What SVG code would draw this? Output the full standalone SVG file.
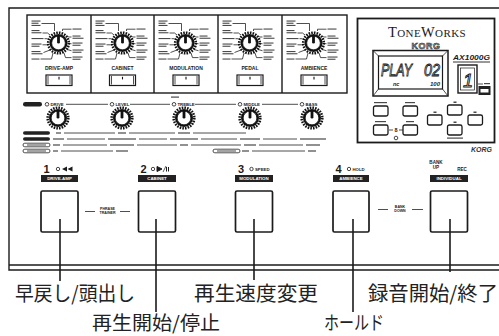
<svg xmlns="http://www.w3.org/2000/svg" width="499" height="336" viewBox="0 0 499 336">
<style>
  .ln{fill:none;stroke:#1b1b1b;stroke-width:1.4}
  .th{fill:none;stroke:#222;stroke-width:0.8}
  .bar{fill:#4a4a4a}
  .hd{font-family:"Liberation Sans",Arial,sans-serif;font-weight:bold;fill:#1b1b1b;text-anchor:middle}
  .sm{font-family:"Liberation Sans",Arial,sans-serif;font-weight:bold;fill:#1b1b1b;font-size:4.3px}
  .num{font-family:"Liberation Sans",Arial,sans-serif;font-weight:bold;fill:#1b1b1b;font-size:11px;text-anchor:middle}
  .jp{font-family:"Noto Sans CJK JP","Noto Sans",sans-serif;font-size:20px;fill:#222}
  .jp2{font-family:"Noto Sans CJK JP","Noto Sans",sans-serif;font-size:19px;fill:#222}
  .sw{fill:#fff;stroke:#1b1b1b;stroke-width:1.7}
  .tag{fill:#222}
  .tagt{font-family:"Liberation Sans",Arial,sans-serif;font-weight:bold;font-size:4.4px;fill:#fff;text-anchor:middle}
  .wire{fill:none;stroke:#1b1b1b;stroke-width:1.6}
  .lcd{font-family:"Liberation Sans",Arial,sans-serif;font-style:italic;fill:#fff;stroke:#111;stroke-width:0.9}
</style>
<defs>
  <!-- rotary knob with ridged rim and pointer -->
  <g id="knob">
    <circle r="10.3" fill="none" stroke="#111" stroke-width="2.6" stroke-dasharray="1.6 1.1"/>
    <circle r="9" fill="#111"/>
    <circle r="6.8" fill="#fff" stroke="#111" stroke-width="0.7"/>
    <rect x="-1.4" y="-7.6" width="2.8" height="8.2" rx="1.4" fill="#111"/>
  </g>
  <!-- selector dial with its printed position legends -->
  <g id="dial">
    <g class="bar">
      <rect x="-27" y="-22.5" width="9" height="1.1"/>
      <rect x="-27" y="-20.3" width="7" height="1.1"/>
      <rect x="-27" y="-18.1" width="9" height="1.1"/>
      <rect x="-27" y="-13" width="8" height="1.1"/>
      <rect x="-27" y="-10.8" width="10" height="1.1"/>
      <rect x="-27" y="-5" width="12" height="1.1"/>
      <rect x="-27" y="0.5" width="10" height="1.1"/>
      <rect x="-27" y="2.7" width="8" height="1.1"/>
      <rect x="-27" y="8" width="9" height="1.1"/>
      <rect x="-27" y="10.2" width="11" height="1.1"/>
      <rect x="-27" y="15.5" width="8" height="1.1"/>
      <rect x="14" y="-14.5" width="9" height="1.1"/>
      <rect x="14" y="-7.5" width="8" height="1.1"/>
      <rect x="14" y="-5.3" width="11" height="1.1"/>
      <rect x="14" y="-0.5" width="10" height="1.1"/>
      <rect x="14" y="1.7" width="8" height="1.1"/>
      <rect x="14" y="6.5" width="11" height="1.1"/>
      <rect x="14" y="8.7" width="9" height="1.1"/>
      <rect x="14" y="13.5" width="10" height="1.1"/>
      <rect x="14" y="15.7" width="8" height="1.1"/>
    </g>
    <path class="th" d="M-17,-19.5 H-4 V-12 M-16,-10 H-11 L-8.5,-8 M-14,-4.3 H-11 M-16,1.8 H-11 M-15,9.5 L-8.5,7 M-18,16 H-7 L-5.5,10 M13,-13.8 H4 V-12 M13,-6 H10 L8.5,-7.5 M13,0.7 H11 M13,7.7 L8.5,6.5 M13,14.6 H7 L5.5,10"/>
    <use href="#knob"/>
  </g>
  <!-- rocker type selector switch -->
  <g id="rocker">
    <rect x="-13" y="0" width="26" height="10.5" fill="#fff" stroke="#1b1b1b" stroke-width="1.2"/>
    <path class="th" d="M-11,1 V9.5 M11,1 V9.5"/>
    <path d="M0,1.8 V4.4" stroke="#111" stroke-width="1.1"/>
  </g>
  <!-- small push button on the display unit -->
  <rect id="pb" x="0" y="0" width="14.5" height="10" rx="1.8" fill="#fff" stroke="#1b1b1b" stroke-width="1.3"/>
</defs>

<rect width="499" height="336" fill="#fff"/>

<!-- outer chassis outline with double bottom edge -->
<g id="chassis">
  <path class="ln" d="M499,8 H9 V270 H499"/>
  <path class="ln" d="M9,265 H499"/>
</g>

<!-- effect selector row -->
<g id="fx-frame">
  <rect x="27" y="15" width="320" height="78" class="ln"/>
  <path class="ln" d="M91,15 V93 M154,15 V93 M218,15 V93 M282,15 V93"/>
</g>
<g id="fx-drive-amp">
  <use href="#dial" x="58.5" y="43"/>
  <text class="hd" x="59" y="70" font-size="5">DRIVE-AMP</text>
  <use href="#rocker" x="59" y="75"/>
</g>
<g id="fx-cabinet">
  <use href="#dial" x="122.5" y="43"/>
  <text class="hd" x="122.5" y="70" font-size="5">CABINET</text>
  <use href="#rocker" x="122.5" y="75"/>
</g>
<g id="fx-modulation">
  <use href="#dial" x="185.5" y="43"/>
  <text class="hd" x="186" y="70" font-size="5">MODULATION</text>
  <use href="#rocker" x="186" y="75"/>
</g>
<g id="fx-pedal">
  <use href="#dial" x="249.5" y="43"/>
  <text class="hd" x="250" y="70" font-size="5">PEDAL</text>
  <use href="#rocker" x="250" y="75"/>
</g>
<g id="fx-ambience">
  <use href="#dial" x="313.5" y="43"/>
  <text class="hd" x="314" y="70" font-size="5">AMBIENCE</text>
  <use href="#rocker" x="314" y="75"/>
</g>

<!-- display unit -->
<g id="display-unit">
  <rect x="357.5" y="18.5" width="137" height="124" fill="#fff" stroke="#1b1b1b" stroke-width="1.8"/>
  <text x="427" y="36.5" text-anchor="middle" font-family="Liberation Serif,serif" fill="#1b1b1b" letter-spacing="0.4"><tspan font-size="14.5">T</tspan><tspan font-size="11">ONE</tspan><tspan font-size="14.5">W</tspan><tspan font-size="11">ORKS</tspan></text>
  <text x="426" y="48.5" text-anchor="middle" font-family="Liberation Sans,Arial,sans-serif" font-weight="900" font-size="9" fill="#9a9a9a" stroke="#1b1b1b" stroke-width="0.5" letter-spacing="0.5">KORG</text>
  <!-- main LCD with bevelled bezel -->
  <rect x="373" y="50.5" width="75" height="45.5" fill="#fff" stroke="#1b1b1b" stroke-width="1.5"/>
  <rect x="378.5" y="56" width="64" height="33" fill="#fff" stroke="#1b1b1b" stroke-width="1.2"/>
  <path class="th" d="M373,50.5 L378.5,56 M448,50.5 L442.5,56 M373,96 L378.5,89 M448,96 L442.5,89"/>
  <text class="lcd" x="381" y="76" font-size="17" textLength="31" lengthAdjust="spacingAndGlyphs">PLAY</text>
  <text class="lcd" x="424" y="76" font-size="17" textLength="16" lengthAdjust="spacingAndGlyphs">02</text>
  <text x="393" y="86" font-family="Liberation Sans,Arial,sans-serif" font-style="italic" font-weight="bold" font-size="5.5" fill="#1b1b1b">nc</text>
  <text x="430" y="86" font-family="Liberation Sans,Arial,sans-serif" font-style="italic" font-weight="bold" font-size="6" fill="#1b1b1b">100</text>
  <text x="453" y="60" font-family="Liberation Sans,Arial,sans-serif" font-style="italic" font-weight="bold" font-size="7.5" fill="#1b1b1b" textLength="37" lengthAdjust="spacingAndGlyphs">AX1000G</text>
  <path d="M453,62 H490" stroke="#1b1b1b" stroke-width="0.9"/>
  <!-- bank LED display -->
  <rect x="458" y="65" width="19" height="28" fill="#fff" stroke="#1b1b1b" stroke-width="1.4"/>
  <rect x="460.5" y="68" width="14" height="22" fill="none" stroke="#1b1b1b" stroke-width="0.7"/>
  <text class="lcd" x="463" y="87" font-size="18">1</text>
  <path class="th" d="M478,84 H483"/>
  <rect x="484" y="83" width="6" height="1.2" class="bar"/>
  <rect x="478.5" y="86" width="12" height="9" fill="#222"/>
  <rect x="480.5" y="89" width="8" height="3.5" fill="#fff"/>
  <!-- push buttons -->
  <g class="bar">
    <rect x="374" y="102" width="13" height="1.2"/>
    <rect x="405" y="102" width="10" height="1.2"/>
    <rect x="375" y="121" width="11" height="1.2"/>
    <rect x="406" y="121" width="8" height="1.2"/>
    <rect x="453.5" y="101.5" width="3" height="1.5"/>
    <rect x="433.5" y="111.5" width="3" height="1.5"/>
    <rect x="473.5" y="111.5" width="3" height="1.5"/>
    <rect x="453.5" y="121.5" width="3" height="1.5"/>
    <rect x="447" y="137.5" width="16" height="1.2"/>
  </g>
  <use href="#pb" x="373.5" y="106"/>
  <use href="#pb" x="403" y="106"/>
  <use href="#pb" x="373.5" y="125"/>
  <use href="#pb" x="403" y="125"/>
  <use href="#pb" x="427.5" y="115"/>
  <use href="#pb" x="447.5" y="105"/>
  <use href="#pb" x="447.5" y="125"/>
  <use href="#pb" x="468" y="115"/>
  <path class="th" d="M389,130 H393 M399,130 H403"/>
  <text x="396" y="132" text-anchor="middle" font-family="Liberation Sans,Arial,sans-serif" font-weight="bold" font-size="5.5" fill="#1b1b1b">8</text>
  <circle cx="396" cy="138" r="1.8" fill="#fff" stroke="#1b1b1b" stroke-width="0.8"/>
</g>
<text id="maker-mark" x="471" y="152" font-family="Liberation Sans,Arial,sans-serif" font-style="italic" font-weight="900" font-size="7" fill="#333">KORG</text>

<!-- amp knob row -->
<g id="amp-controls">
  <rect class="tag" x="23" y="102" width="19" height="4.5" rx="2.2"/>
  <rect x="171" y="96.5" width="8" height="1.2" class="bar"/>
  <g fill="#fff" stroke="#1b1b1b" stroke-width="0.8">
    <circle cx="47" cy="104.3" r="1.8"/>
    <circle cx="112" cy="104.3" r="1.8"/>
    <circle cx="174" cy="104.3" r="1.8"/>
    <circle cx="240" cy="104.3" r="1.8"/>
    <circle cx="302" cy="104.3" r="1.8"/>
  </g>
  <text class="sm" x="50.5" y="105.8">DRIVE</text>
  <text class="sm" x="115.5" y="105.8">LEVEL</text>
  <text class="sm" x="177.5" y="105.8">TREBLE</text>
  <text class="sm" x="243.5" y="105.8">MIDDLE</text>
  <text class="sm" x="305.5" y="105.8">BASS</text>
  <path class="th" d="M66,104.3 H108 M130,104.3 H170 M195,104.3 H236 M262,104.3 H298"/>
  <use href="#knob" x="58" y="118"/>
  <use href="#knob" x="122" y="118"/>
  <use href="#knob" x="184" y="118"/>
  <use href="#knob" x="250" y="118"/>
  <use href="#knob" x="312" y="118"/>
  <!-- per-effect parameter legends -->
  <g class="tag">
    <rect x="23" y="131.2" width="27" height="3.6" rx="1.8"/>
    <rect x="23" y="137.2" width="27" height="3.6" rx="1.8"/>
    <rect x="23" y="143.2" width="27" height="3.6" rx="1.8" fill="#fff" stroke="#222" stroke-width="0.8"/>
    <rect x="23" y="149.2" width="27" height="3.6" rx="1.8" fill="#fff" stroke="#222" stroke-width="0.8"/>
    <rect x="213" y="149.2" width="27" height="3.6" rx="1.8" fill="#fff" stroke="#222" stroke-width="0.8"/>
  </g>
  <g class="bar">
    <rect x="27" y="144.5" width="19" height="1"/>
    <rect x="27" y="150.5" width="19" height="1"/>
    <rect x="217" y="150.5" width="19" height="1"/>
    <rect x="56" y="132.4" width="5" height="1.2"/>
    <rect x="118" y="132.4" width="8" height="1.2"/>
    <rect x="178" y="132.4" width="12" height="1.2"/>
    <rect x="53" y="138.4" width="11" height="1.2"/>
    <rect x="108" y="138.4" width="28" height="1.2"/>
    <rect x="170" y="138.4" width="28" height="1.2"/>
    <rect x="240" y="138.4" width="20" height="1.2"/>
    <rect x="300" y="138.4" width="26" height="1.2"/>
    <rect x="53" y="144.4" width="7" height="1.2"/>
    <rect x="110" y="144.4" width="24" height="1.2"/>
    <rect x="180" y="144.4" width="8" height="1.2"/>
    <rect x="244" y="144.4" width="12" height="1.2"/>
    <rect x="306" y="144.4" width="14" height="1.2"/>
    <rect x="53" y="150.4" width="5" height="1.2"/>
    <rect x="116" y="150.4" width="12" height="1.2"/>
    <rect x="242" y="150.4" width="7" height="1.2"/>
    <rect x="308" y="150.4" width="8" height="1.2"/>
  </g>
  <path class="th" d="M64,133 H115 M129,133 H175 M193,133 H246 M67,139 H105 M139,139 H167 M201,139 H237 M263,139 H297 M63,145 H107 M137,145 H177 M191,145 H241 M259,145 H303 M61,151 H113 M252,151 H305"/>
</g>

<!-- foot switches -->
<g id="sw1">
  <text class="num" x="46.5" y="173">1</text>
  <circle cx="58" cy="169" r="1.7" fill="#fff" stroke="#1b1b1b" stroke-width="0.8"/>
  <path d="M62,169 L67,166.5 V171.5 Z M67.5,169 L72.5,166.5 V171.5 Z" fill="#1b1b1b"/>
  <rect class="tag" x="41" y="175" width="37" height="7"/>
  <text class="tagt" x="59.5" y="180.2">DRIVE-AMP</text>
  <rect class="sw" x="41" y="191" width="37" height="41" rx="1.5"/>
</g>
<g id="sw2">
  <text class="num" x="143.5" y="173">2</text>
  <circle cx="153" cy="169" r="1.7" fill="#fff" stroke="#1b1b1b" stroke-width="0.8"/>
  <path d="M157,166.5 L162,169 L157,171.5 Z M166.5,167 V171.5 M168.5,167 V171.5" fill="#1b1b1b" stroke="#1b1b1b" stroke-width="1"/>
  <path d="M163,172 L166,166" stroke="#1b1b1b" stroke-width="0.7"/>
  <rect class="tag" x="138" y="175" width="38" height="7"/>
  <text class="tagt" x="157" y="180.2">CABINET</text>
  <rect class="sw" x="138.5" y="191" width="37" height="41" rx="1.5"/>
</g>
<g id="sw3">
  <text class="num" x="241" y="173">3</text>
  <circle cx="251.5" cy="169" r="1.7" fill="#fff" stroke="#1b1b1b" stroke-width="0.8"/>
  <text class="sm" x="255" y="170.8" font-size="4.6">SPEED</text>
  <rect class="tag" x="235" y="175" width="38" height="7"/>
  <text class="tagt" x="254" y="180.2">MODULATION</text>
  <rect class="sw" x="235.5" y="191" width="37" height="41" rx="1.5"/>
</g>
<g id="sw4">
  <text class="num" x="338.5" y="173">4</text>
  <circle cx="349" cy="169" r="1.7" fill="#fff" stroke="#1b1b1b" stroke-width="0.8"/>
  <text class="sm" x="352.5" y="170.8" font-size="4.6">HOLD</text>
  <rect class="tag" x="333" y="175" width="36" height="7"/>
  <text class="tagt" x="351" y="180.2">AMBIENCE</text>
  <rect class="sw" x="333" y="191" width="36" height="41" rx="1.5"/>
</g>
<g id="sw5">
  <text class="hd" x="436" y="164" font-size="4.6">BANK</text>
  <text class="hd" x="436" y="168.5" font-size="4.6">UP</text>
  <text class="hd" x="462" y="170.8" font-size="4.6">REC</text>
  <rect class="tag" x="430" y="175" width="38" height="7"/>
  <text class="tagt" x="449" y="180.2">INDIVIDUAL</text>
  <rect class="sw" x="430.5" y="191" width="37" height="41" rx="1.5"/>
</g>

<!-- pair legends between switches -->
<g id="phrase-trainer">
  <path class="th" d="M85,211.5 H95 M120,211.5 H130" stroke-width="1"/>
  <text class="hd" x="107.5" y="210" font-size="3.6">PHRASE</text>
  <text class="hd" x="107.5" y="214.3" font-size="3.6">TRAINER</text>
</g>
<g id="bank-down">
  <path class="th" d="M378,209.5 H388 M412,209.5 H423" stroke-width="1"/>
  <text class="hd" x="400" y="208" font-size="3.6">BANK</text>
  <text class="hd" x="400" y="212.3" font-size="3.6">DOWN</text>
</g>

<!-- leader lines from switches to their functions -->
<g id="connectors" class="wire">
  <path d="M60,219 V281"/>
  <path d="M156,219 V312"/>
  <path d="M254,219 V280"/>
  <path d="M353,219 V312"/>
  <path d="M450,219 V272"/>
</g>

<g id="labels">
  <text class="jp" x="15" y="301" textLength="120" lengthAdjust="spacingAndGlyphs">早戻し/頭出し</text>
  <text class="jp" x="194" y="301" textLength="124" lengthAdjust="spacingAndGlyphs">再生速度変更</text>
  <text class="jp" x="368" y="301" textLength="130" lengthAdjust="spacingAndGlyphs">録音開始/終了</text>
  <text class="jp2" x="92" y="330" textLength="128" lengthAdjust="spacingAndGlyphs">再生開始/停止</text>
  <text class="jp2" x="324" y="330" textLength="60" lengthAdjust="spacingAndGlyphs">ホールド</text>
</g>
</svg>
